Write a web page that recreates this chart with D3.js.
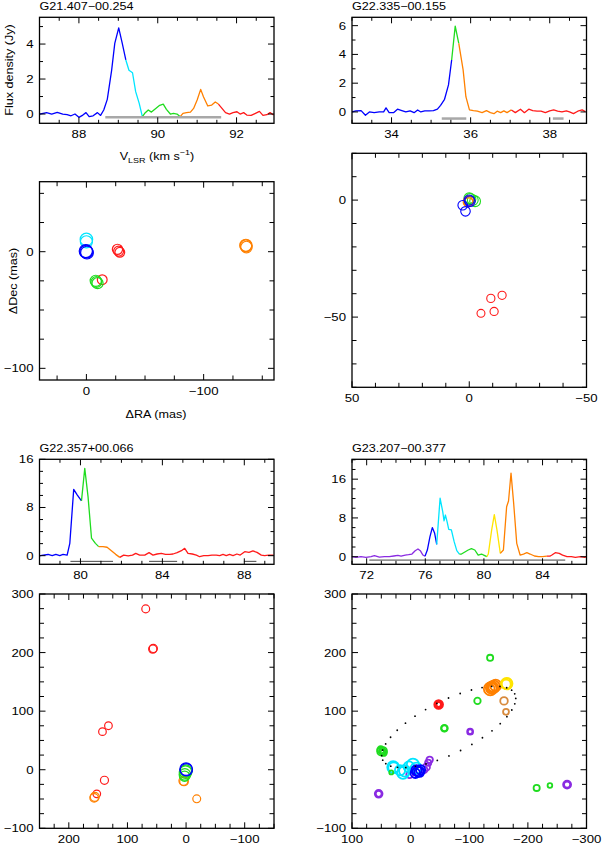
<!DOCTYPE html>
<html><head><meta charset="utf-8">
<script src="https://cdn.jsdelivr.net/npm/d3@7"></script>
<style>body{margin:0;background:#fff}</style>
</head><body><svg id="c" width="602" height="845" style="display:block;background:#fff"></svg>
<script>
// ---------------- DATA ----------------
const titles = ["G21.407\u221200.254", "G22.335\u221200.155", "G22.357+00.066", "G23.207\u221200.377"];

// spectra: [velocity (km/s), flux density (Jy)]
const spec1 = [[87.0,0],[87.18,0.08],[87.31,0],[87.45,0.1],[87.59,0],[87.7,-0.04],[87.8,-0.1],[87.9,0],[88.0,-0.19],[88.1,-0.06],[88.18,0.08],[88.26,-0.15],[88.36,-0.1],[88.47,0.08],[88.55,-0.08],[88.63,0.23],[88.72,0.84],[88.83,2.5],[88.91,4.04],[89.01,4.93],[89.1,4.04],[89.19,3.09],[89.27,2.5],[89.36,2.36],[89.44,1.28],[89.53,0.61],[89.61,-0.15],[89.67,0.04],[89.76,0.23],[89.84,0.11],[89.95,0.32],[90.05,0.5],[90.14,0.57],[90.22,0.27],[90.32,0],[90.4,0.04],[90.49,0],[90.57,-0.15],[90.64,0.04],[90.73,0.08],[90.83,0.11],[90.91,0.32],[91.0,0.8],[91.09,1.41],[91.16,0.99],[91.27,0.46],[91.37,0.51],[91.46,0.69],[91.54,0.57],[91.63,0.32],[91.72,0.08],[91.82,0],[91.91,0.08],[92.01,0.13],[92.09,0],[92.18,0.08],[92.26,-0.06],[92.37,-0.08],[92.48,0.04],[92.58,0.15],[92.67,-0.08],[92.77,-0.04],[92.85,0.08],[92.94,-0.06]];
const spec2 = [[33.0,0],[33.1,0.07],[33.23,0.09],[33.34,-0.23],[33.44,0],[33.56,-0.05],[33.69,0],[33.8,0],[33.86,0.28],[33.94,-0.05],[34.05,-0.05],[34.15,0.19],[34.26,0.09],[34.36,0],[34.47,0.07],[34.57,-0.05],[34.66,0.14],[34.74,0],[34.84,0.07],[34.95,0.07],[35.06,0.09],[35.16,0.19],[35.24,0.46],[35.34,0.88],[35.44,1.88],[35.52,3.61],[35.61,5.97],[35.7,4.77],[35.81,2.92],[35.88,1.06],[35.97,0.14],[36.07,0.09],[36.17,0.05],[36.29,-0.05],[36.4,0.09],[36.5,-0.05],[36.59,-0.12],[36.67,0.05],[36.76,-0.05],[36.84,0.07],[36.92,-0.05],[37.03,0.14],[37.13,-0.05],[37.26,0.19],[37.36,-0.05],[37.47,0.19],[37.57,0.09],[37.68,0.05],[37.78,0.05],[37.89,-0.05],[38.0,0.07],[38.1,0.14],[38.2,0.05],[38.31,0],[38.42,0.07],[38.5,0],[38.6,-0.12],[38.71,0.05],[38.82,0.14],[38.9,0.02]];
const spec3 = [[77.98,-0.05],[78.18,0.1],[78.42,0.2],[78.62,0],[78.8,0.2],[78.99,0],[79.15,0.2],[79.35,0.1],[79.48,2.05],[79.67,11.0],[79.84,10.1],[80.05,9.1],[80.21,14.5],[80.37,9.8],[80.54,2.9],[80.73,2.05],[80.89,1.5],[81.1,1.5],[81.3,1.4],[81.51,0.83],[81.72,0.22],[81.92,-0.28],[82.11,0.1],[82.33,-0.05],[82.54,0.1],[82.7,0.39],[82.89,0.1],[83.14,0.1],[83.35,0.5],[83.54,0.1],[83.74,0.28],[83.95,0.39],[84.15,0.22],[84.36,0.22],[84.52,0.28],[84.72,0.5],[84.93,0.83],[85.09,1.22],[85.25,0.39],[85.46,0.28],[85.66,0.1],[85.82,-0.17],[86.02,0],[86.23,0],[86.42,0.1],[86.63,0.1],[86.8,0],[86.96,0.22],[87.12,0],[87.28,0.22],[87.45,0],[87.64,0.28],[87.8,0.1],[88.02,0.66],[88.23,0.55],[88.42,0.78],[88.62,0.55],[88.83,0.1],[88.99,0],[89.2,0.1],[89.43,0.1]];
const spec4 = [[70.97,0],[71.27,-0.14],[71.61,0],[71.95,-0.14],[72.3,0],[72.53,0.2],[72.87,-0.07],[73.21,0],[73.55,0],[73.85,0.14],[74.13,0.28],[74.35,0.14],[74.63,0.34],[74.86,0.41],[75.09,0.55],[75.31,1.24],[75.5,1.59],[75.66,1.24],[75.84,0.34],[75.98,0.1],[76.14,1.38],[76.32,4.14],[76.48,6.0],[76.64,4.83],[76.78,2.55],[77.01,12.07],[77.19,9.3],[77.28,7.4],[77.37,8.6],[77.49,7.2],[77.6,5.66],[77.78,5.52],[77.97,3.1],[78.15,1.24],[78.33,0.55],[78.47,0.55],[78.7,0.97],[78.93,1.38],[79.15,1.66],[79.38,1.38],[79.61,0.34],[79.84,0.55],[80.02,0.28],[80.2,0],[80.3,0.55],[80.53,5.52],[80.71,8.69],[80.89,5.52],[81.12,0.69],[81.33,1.38],[81.55,10.3],[81.68,11.5],[81.85,17.24],[82.03,11.03],[82.24,2.76],[82.47,0.34],[82.7,0.55],[82.93,0.83],[83.15,0.55],[83.45,0.14],[83.73,0],[84.0,0],[84.3,0.1],[84.5,0.1],[84.64,0.34],[84.87,0.83],[85.14,0.69],[85.37,0.34],[85.67,0],[85.97,0],[86.24,-0.14],[86.58,0],[86.88,-0.14],[87.0,0]];

// velocity colour ranges: [upper velocity bound, colour group]
const spec1Groups = [[89.15,"b"],[89.62,"c"],[90.6,"g"],[91.58,"o"],[999,"r"]];
const spec2Groups = [[35.52,"b"],[35.72,"g"],[37.08,"o"],[999,"r"]];
const spec3Groups = [[80.1,"b"],[80.95,"g"],[81.98,"o"],[999,"r"]];
const spec4Groups = [[76.0,"p"],[76.85,"b"],[78.38,"c"],[80.24,"g"],[81.05,"y"],[84.35,"o"],[999,"r"]];

// velocity-range bars: [v start, v end, flux level]
const spec1Bars = [[88.67,91.61,-0.19]];
const spec2Bars = [[35.27,35.89,-0.46],[38.08,38.35,-0.46]];
const spec3Bars = [[79.51,81.59,-0.94],[83.35,84.72,-0.94],[87.98,88.59,-0.94]];
const spec4Bars = [[72.18,85.55,-0.7]];

// maser spots: [dRA (mas), dDec (mas), flux (Jy), colour group]
const map1Spots = [[0,10.5,2.5,"c"],[0,8.5,1.5,"c"],[0.5,0.5,4.9,"b"],[0,0,4.0,"b"],[-0.5,-0.8,3.0,"b"],[-26.5,2,0.2,"r"],[-27.5,0.5,0.15,"r"],[-28.5,-0.5,0.12,"r"],[-13.5,-24,0.12,"r"],[-8,-25,0.6,"g"],[-9.5,-27,0.5,"g"],[-8.5,-26,0.35,"g"],[-136,5.5,1.4,"o"],[-136.5,4,0.8,"o"],[-136,5,1.1,"o"]];
const map2Spots = [[-0.5,0.5,5.5,"g"],[-1.5,0,5,"g"],[-2.5,-0.5,4.5,"g"],[0,0.8,4,"g"],[0.5,-0.8,1.5,"o"],[0.2,-0.4,2.5,"o"],[0.3,-1,0.5,"o"],[-0.3,-0.5,3.5,"b"],[0,0,2.5,"b"],[2.8,-2.2,1.0,"b"],[1.6,-4.8,1.0,"b"],[-9.2,-42,0.2,"r"],[-14,-40.7,0.2,"r"],[-10.6,-47.6,0.2,"r"],[-5,-48.4,0.15,"r"]];
const map3Spots = [[68.8,274.6,0.8,"r"],[56.8,206,1.0,"r"],[55.8,207,0.9,"r"],[132.4,75.1,0.7,"r"],[142.6,65,0.7,"r"],[139.2,-18,0.9,"r"],[152.3,-41.2,0.7,"r"],[155.7,-46.3,1.5,"o"],[156.8,-48,1.2,"o"],[4.5,-19,1.5,"o"],[3.5,-20,1.2,"o"],[-18.2,-49.7,0.8,"o"],[1,-4,10,"g"],[2,-8,6,"g"],[2.5,-11,3,"g"],[0,-2,8,"g"],[0,1,11,"b"],[-0.5,0,9,"b"]];
const map4Spots = [
  [54.5,-41.2,1.6,"p"],[54.5,-41.2,0.7,"p"],[-266.9,-25.4,1.8,"p"],[-266.9,-25.4,0.8,"p"],[-101.5,65,0.7,"p"],[-101.5,65,0.4,"p"],
  [-32.5,17,0.9,"p"],[-30,12,0.8,"p"],[-26.8,4.5,1.3,"p"],[-23,0,1.0,"p"],[1.7,-8.5,1.0,"p"],
  [29.8,4.5,10,"c"],[29,3.5,6,"c"],[13,-5.6,9,"c"],[10,-2,8,"c"],[-4,8.5,12,"c"],[-9.7,2.8,7,"c"],[3,5,6,"c"],[18,-1,5,"c"],
  [-12.6,-2.8,6,"b"],[-10,-1,5,"b"],[-15,-4,4,"b"],[-8,-6,3.5,"b"],[-17,0,3,"b"],
  [50,31,2.0,"g"],[47,32,1.6,"g"],[51,34,1.2,"g"],[46,29,0.9,"g"],[49,31,0.6,"g"],
  [-57.6,70.7,1.0,"g"],[-57.6,70.7,0.7,"g"],[-114,117.5,0.9,"g"],[-135.6,191,0.8,"g"],[-215,-31,0.8,"g"],[-237.6,-27,0.4,"g"],[33,-4.6,0.3,"g"],
  [-47.8,111.3,2.5,"r"],[-47.8,111.3,1.4,"r"],[-47.8,111.3,0.7,"r"],[-47.8,111.3,0.4,"r"],
  [-136,138,17,"o"],[-139,140,14,"o"],[-142,142,11,"o"],[-145,144,8,"o"],[-138,139,5,"o"],[-140,141,2.5,"o"],[-137,139,1.2,"o"],
  [-163.9,147,9,"y"],[-163.9,147,6,"y"],[-163,146,3,"y"],
  [-159.3,117.5,1.5,"s"],[-162.7,98.8,0.7,"s"]
];
// fitted ellipse for G23.207: [centre dRA, centre dDec, semi-major, semi-minor, angle (deg)]
const map4Ellipse = [-65, 73, 126, 45, 153.3];

// axis ticks
const s1X = [88,90,92], s1Y = [0,2,4];
const s2X = [34,36,38], s2Y = [0,2,4,6];
const s3X = [80,84,88], s3Y = [0,8,16];
const s4X = [72,76,80,84], s4Y = [0,8,16];
const m1X = [0,-100], m1Y = [0,-100];
const m2X = [50,0,-50], m2Y = [0,-50];
const m3X = [200,100,0,-100], m3Y = [300,200,100,0,-100];
const m4X = [100,0,-100,-200,-300], m4Y = [300,200,100,0,-100];

// ---------------- DRAWING ----------------
const COL = {p:"#8a2be2", b:"#0000ff", c:"#00e5ff", g:"#1fdc1f", y:"#ffe400", o:"#ff8000", r:"#ff1a1a", s:"#d88a3c"};
const FONT = '"Liberation Sans", Arial, Helvetica, sans-serif';
const SX = 1.2;
const svg = d3.select("#c");
const fmt = d3.format("d");

function txt(g, x, y, s, o = {}) {
  const t = g.append("text")
    .attr("transform", `translate(${x},${y})${o.rot ? ` rotate(${o.rot})` : ""} scale(${SX},1)`)
    .attr("text-anchor", o.anchor || "start")
    .attr("font-size", o.size || 11)
    .attr("font-family", FONT)
    .attr("fill", "#000");
  if (s != null) t.text(s);
  return t;
}

function axes(g, xs, ys, o) {
  const [x0, x1] = xs.range(), [y0, y1] = ys.range(); // y0 bottom, y1 top
  const L = 6, l = o.minLen || 3.5;
  const segs = [];
  o.xMin.forEach(v => { const x = xs(v); segs.push([x, y0, x, y0 - l], [x, y1, x, y1 + l]); });
  o.xMaj.forEach(v => { const x = xs(v); segs.push([x, y0, x, y0 - L], [x, y1, x, y1 + L]); });
  o.yMin.forEach(v => { const y = ys(v); segs.push([x0, y, x0 + l, y], [x1, y, x1 - l, y]); });
  o.yMaj.forEach(v => { const y = ys(v); segs.push([x0, y, x0 + L, y], [x1, y, x1 - L, y]); });
  g.append("g").selectAll("line").data(segs).join("line")
    .attr("x1", d => d[0]).attr("y1", d => d[1]).attr("x2", d => d[2]).attr("y2", d => d[3])
    .attr("stroke", "#000").attr("stroke-width", 1);
  g.append("rect").attr("x", x0).attr("y", y1).attr("width", x1 - x0).attr("height", y0 - y1)
    .attr("fill", "none").attr("stroke", "#000").attr("stroke-width", 1.3);
  o.xMaj.forEach(v => txt(g, xs(v), y0 + 15, fmt(v), {anchor: "middle"}));
  o.yMaj.forEach(v => txt(g, x0 - 6, ys(v) + 4, fmt(v), {anchor: "end"}));
}

function ticksBetween(domain, step) {
  const lo = Math.min(...domain), hi = Math.max(...domain);
  const out = [];
  for (let v = Math.ceil(lo / step) * step; v <= hi + 1e-9; v += step) out.push(+v.toFixed(6));
  return out;
}

function spectrum(box, data, groups, bars, barStyle, xd, yd, xMaj, yMaj, xStep, yStep, title) {
  const xs = d3.scaleLinear().domain(xd).range([box[0], box[0] + box[2]]);
  const ys = d3.scaleLinear().domain(yd).range([box[1] + box[3], box[1]]);
  const g = svg.append("g");
  const colorOf = v => groups.find(b => v < b[0])[1];
  const runs = [];
  for (let i = 0; i < data.length - 1; i++) {
    const c = colorOf((data[i][0] + data[i + 1][0]) / 2);
    if (!runs.length || runs[runs.length - 1].c !== c) runs.push({c, pts: [data[i]]});
    runs[runs.length - 1].pts.push(data[i + 1]);
  }
  const line = d3.line().x(d => xs(d[0])).y(d => ys(d[1]));
  g.selectAll("path.sp").data(runs).join("path").attr("class", "sp")
    .attr("d", r => line(r.pts)).attr("fill", "none").attr("stroke", r => COL[r.c])
    .attr("stroke-width", 1.3).attr("stroke-linejoin", "round");
  g.selectAll("line.bar").data(bars).join("line").attr("class", "bar")
    .attr("x1", d => xs(d[0])).attr("x2", d => xs(d[1])).attr("y1", d => ys(d[2])).attr("y2", d => ys(d[2]))
    .attr("stroke", barStyle[0]).attr("stroke-width", barStyle[1]);
  const xMin = ticksBetween(xd, xStep).filter(v => !xMaj.includes(v));
  const yMin = ticksBetween(yd, yStep).filter(v => !yMaj.includes(v));
  axes(g, xs, ys, {xMaj, yMaj, xMin, yMin});
  txt(g, box[0], box[1] - 7, title, {size: 10.5});
  return {g, xs, ys};
}

function spotMap(box, xd, yd, spots, rDom, rRange, sw, xMaj, yMaj, step) {
  const xs = d3.scaleLinear().domain(xd).range([box[0], box[0] + box[2]]);
  const ys = d3.scaleLinear().domain(yd).range([box[1] + box[3], box[1]]);
  const rs = d3.scaleLog().domain(rDom).range(rRange).clamp(true);
  const g = svg.append("g");
  g.selectAll("circle.spot").data(spots).join("circle").attr("class", "spot")
    .attr("cx", d => xs(d[0])).attr("cy", d => ys(d[1])).attr("r", d => rs(d[2]))
    .attr("fill", "none").attr("stroke", d => COL[d[3]]).attr("stroke-width", sw);
  const xMin = ticksBetween(xd, step).filter(v => !xMaj.includes(v));
  const yMin = ticksBetween(yd, step).filter(v => !yMaj.includes(v));
  axes(g, xs, ys, {xMaj, yMaj, xMin, yMin, minLen: 4.5});
  return {g, xs, ys};
}

// panel boxes [x, y, w, h]
const L0 = 39.5, R0 = 352, PW = 234.5;

// Top-left spectrum
const p1 = spectrum([L0, 17.3, PW, 106], spec1, spec1Groups, spec1Bars, ["#a8a8a8", 2.5],
  [87, 92.95], [-0.53, 5.53], s1X, s1Y, 0.5, 1, titles[0]);
txt(p1.g, 13, 70, "Flux density (Jy)", {rot: -90, anchor: "middle", size: 10.5});
const vl = txt(p1.g, 157, 159.5, null, {anchor: "middle", size: 10.5});
vl.append("tspan").text("V");
vl.append("tspan").attr("font-size", 7.5).attr("dy", 3).text("LSR");
vl.append("tspan").attr("dy", -3).text(" (km s");
vl.append("tspan").attr("font-size", 7.5).attr("dy", -4.5).text("\u22121");
vl.append("tspan").attr("dy", 4.5).text(")");

// Top-right spectrum
spectrum([R0, 17.3, PW, 106], spec2, spec2Groups, spec2Bars, ["#a8a8a8", 2.5],
  [33, 38.93], [-0.79, 6.58], s2X, s2Y, 0.5, 1, titles[1]);

// Map 1
const m1 = spotMap([L0, 181.7, PW, 198.3], [40, -160], [-110, 60], map1Spots, [0.1, 5], [4.8, 6.6], 1.2, m1X, m1Y, 25);
txt(m1.g, 16.5, 281, "\u0394Dec (mas)", {rot: -90, anchor: "middle", size: 10.5});
txt(m1.g, 156, 418, "\u0394RA (mas)", {anchor: "middle", size: 10.5});

// Map 2
spotMap([R0, 153.3, PW, 234], [50, -50], [-80, 20], map2Spots, [0.1, 6], [3.8, 5.5], 1.1, m2X, m2Y, 10);

// Bottom spectra
spectrum([L0, 459.3, PW, 105], spec3, spec3Groups, spec3Bars, ["#444", 1],
  [78, 89.45], [-1.43, 16], s3X, s3Y, 1, 2, titles[2]);
spectrum([R0, 459.3, PW, 105], spec4, spec4Groups, spec4Bars, ["#444", 1],
  [71, 87], [-1.57, 20.1], s4X, s4Y, 1, 2, titles[3]);

// Map 3
spotMap([L0, 594, PW, 234.3], [250, -150], [-100, 300], map3Spots, [0.5, 11], [3.5, 6.3], 1.2, m3X, m3Y, 25);

// Map 4 with ellipse
const m4 = spotMap([R0, 594, PW, 234.3], [100, -300], [-100, 300], map4Spots, [0.3, 17], [2, 6.5], 1.8, m4X, m4Y, 25);
{
  const [cx, cy, a, b, ang] = map4Ellipse;
  const th = ang * Math.PI / 180, u = [Math.cos(th), Math.sin(th)], v = [-Math.sin(th), Math.cos(th)];
  const ts = d3.range(36).map(i => i * 2 * Math.PI / 36);
  const pts = ts.map(t => [cx + a * Math.cos(t) * u[0] + b * Math.sin(t) * v[0], cy + a * Math.cos(t) * u[1] + b * Math.sin(t) * v[1]]);
  m4.g.append("g").selectAll("circle").data(pts).join("circle")
    .attr("cx", d => m4.xs(d[0])).attr("cy", d => m4.ys(d[1])).attr("r", 0.9).attr("fill", "#000");
}
</script>
</body></html>
